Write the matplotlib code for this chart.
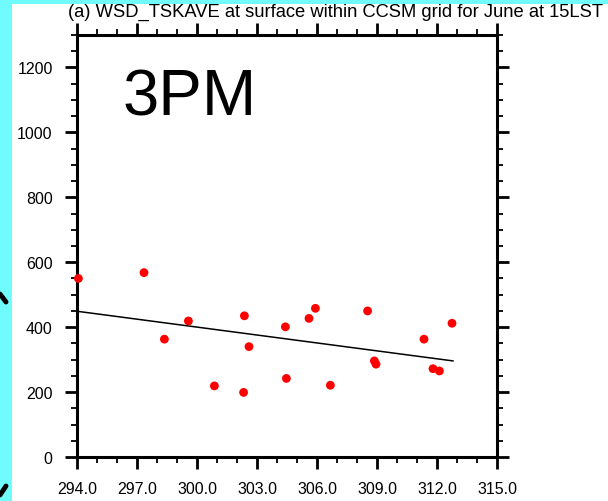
import numpy as np
import matplotlib
matplotlib.use("Agg")
import matplotlib.pyplot as plt
from matplotlib.ticker import MultipleLocator
from matplotlib.patches import Rectangle
from matplotlib.lines import Line2D

plt.rcParams['font.family'] = ['Liberation Sans', 'DejaVu Sans']

# temperature (K) vs WSD values
tsk = [294.07, 297.35, 298.37, 299.57, 300.87, 302.37, 302.33, 302.6, 304.42,
       304.47, 305.6, 305.92, 306.67, 308.53, 308.87, 308.95, 311.35, 311.8,
       312.12, 312.75]
wsd = [550, 568, 363, 419, 219, 435, 199, 340, 401,
       242, 427, 458, 221, 450, 296, 286, 363, 272,
       265, 412]

# regression line ends
fit_x = [294.0, 312.8]
fit_y = [449, 296]

xticks = [294, 297, 300, 303, 306, 309, 312, 315]
xticklabels = ['%.1f' % v for v in xticks]
yticks = [0, 200, 400, 600, 800, 1000, 1200]

W, H = 608, 502
fig = plt.figure(figsize=(W / 100, H / 100), dpi=100)
fig.set_facecolor('#70fbfd')
fig.add_artist(Rectangle((12 / W, 0), 1, 1 - 5 / H, transform=fig.transFigure,
                         facecolor='white', edgecolor='none', zorder=0))

ax = fig.add_axes([77 / W, 1 - 458 / H, 420 / W, 422 / H])
ax.set_xlim(294, 315)
ax.set_ylim(0, 1300)

ax.plot(fit_x, fit_y, color='black', lw=1.1, zorder=2)
ax.scatter(tsk, wsd, s=40, color='#ff0000', edgecolors='none', zorder=3, clip_on=False)

ax.set_xticks(xticks)
ax.set_xticklabels(xticklabels)
ax.set_yticks(yticks)
ax.xaxis.set_minor_locator(MultipleLocator(1))
ax.yaxis.set_minor_locator(MultipleLocator(50))
ax.tick_params(which='both', direction='out', top=True, right=True,
               labeltop=False, labelright=False)
ax.tick_params(which='major', length=8.5, width=2.0, labelsize=11.5, pad=9)
ax.tick_params(which='minor', length=4, width=1.3)
for s in ax.spines.values():
    s.set_linewidth(2.2)

fig.text(335 / W, 1 - 12 / H, '(a) WSD_TSKAVE at surface within CCSM grid for June at 15LST',
         ha='center', va='center', fontsize=13.2)

ax.text(113 / 420, 1 - 63 / 422, '3PM', transform=ax.transAxes, ha='center', va='center',
        fontsize=47)

# cyan frame pieces covering the clipped edges
fig.add_artist(Rectangle((0, 0), 12 / W, 1, transform=fig.transFigure,
                         facecolor='#70fbfd', edgecolor='none', zorder=10))
fig.add_artist(Rectangle((0, 1 - 5 / H), 1, 5 / H, transform=fig.transFigure,
                         facecolor='#70fbfd', edgecolor='none', zorder=10))

# black marks at the left edge
for (x0, y0, x1, y1) in [(0, 295, 6, 303), (0, 496, 6, 487)]:
    fig.add_artist(Line2D([x0 / W, x1 / W], [1 - y0 / H, 1 - y1 / H],
                          transform=fig.transFigure, color='black', lw=3.5,
                          solid_capstyle='round', zorder=11))

fig.savefig('out.png', dpi=100, facecolor=fig.get_facecolor())
